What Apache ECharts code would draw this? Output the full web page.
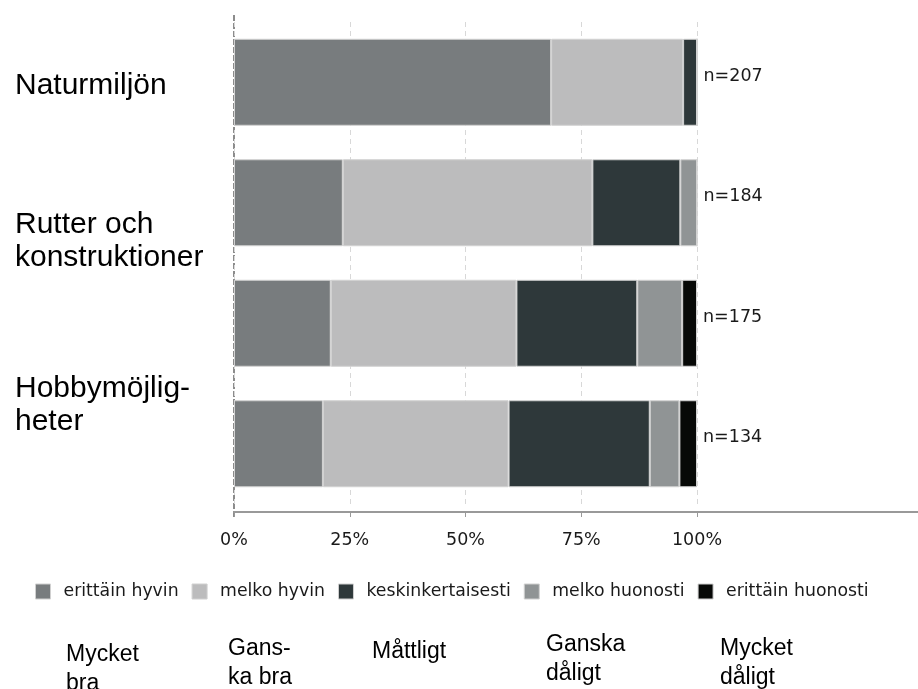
<!DOCTYPE html>
<html>
<head>
<meta charset="utf-8">
<script src="https://cdn.jsdelivr.net/npm/echarts@6/dist/echarts.min.js"></script>
<style>
html,body{margin:0;padding:0;background:#fff;}
#c{width:918px;height:689px;}
</style>
</head>
<body>
<div id="c"></div>
<script>
// ---- data ----
var categories = ['Naturmiljön', 'Rutter och konstruktioner', 'rad 3', 'Hobbymöjligheter'];
var seriesNames = ['erittäin hyvin', 'melko hyvin', 'keskinkertaisesti', 'melko huonosti', 'erittäin huonosti'];
var erittainHyvin   = [68.5, 23.5, 20.9, 19.2];
var melkoHyvin      = [28.5, 53.9, 40.1, 40.1];
var keskinkertaisesti = [3.0, 19.0, 26.1, 30.5];
var melkoHuonosti   = [0, 3.6, 9.7, 6.4];
var erittainHuonosti = [0, 0, 3.2, 3.8];
var nValues = [207, 184, 175, 134];
var xTicks = [0, 25, 50, 75, 100];
var leftLabels = ['Naturmiljön', 'Rutter och\nkonstruktioner', 'Hobbymöjlig-\nheter'];
var bottomLabels = ['Mycket\nbra', 'Gans-\nka bra', 'Måttligt', 'Ganska\ndåligt', 'Mycket\ndåligt'];

// ---- styles / layout ----
var colors = ['#787c7e', '#bcbcbd', '#2e383a', '#909495', '#070907'];
var valueSets = [erittainHyvin, melkoHyvin, keskinkertaisesti, melkoHuonosti, erittainHuonosti];
var tickFont = 'DejaVu Sans';

var chart = echarts.init(document.getElementById('c'));

var series = seriesNames.map(function (name, i) {
  var s = {
    name: name,
    type: 'bar',
    stack: 'total',
    barWidth: 87,
    data: valueSets[i],
    itemStyle: { color: colors[i], borderColor: '#d2d2d2', borderWidth: 1 },
    emphasis: { disabled: true },
    animation: false
  };
  if (i === seriesNames.length - 1) {
    s.label = {
      show: true,
      position: 'right',
      distance: 6,
      offset: [0, -6],
      fontFamily: tickFont,
      fontSize: 17.5,
      color: '#1a1a1a',
      formatter: function (p) { return 'n=' + nValues[p.dataIndex]; }
    };
  }
  return s;
});

var leftPos = [[15, 86], [15, 241], [15, 405]];
var bottomPos = [[66, 655], [228, 649], [372, 652], [546, 645], [720, 649]];

var graphics = [];
// y axis line
graphics.push({ type: 'line', shape: { x1: 234, y1: 15, x2: 234, y2: 517 },
  style: { stroke: '#8c8c8c', lineWidth: 2, lineDash: [6, 2] }, silent: true });
// x axis line extension
graphics.push({ type: 'line', shape: { x1: 697, y1: 512, x2: 918, y2: 512 },
  style: { stroke: '#999', lineWidth: 2 }, silent: true });

leftLabels.forEach(function (t, i) {
  graphics.push({
    type: 'text', x: leftPos[i][0], y: leftPos[i][1],
    style: { text: t, fontFamily: 'Liberation Sans, Arial', fontSize: 30, lineHeight: 33,
      fill: '#000', verticalAlign: 'middle', align: 'left' }, silent: true
  });
});
bottomLabels.forEach(function (t, i) {
  graphics.push({
    type: 'text', x: bottomPos[i][0], y: bottomPos[i][1] - 14.5,
    style: { text: t, fontFamily: 'Liberation Sans, Arial', fontSize: 23, lineHeight: 29,
      fill: '#000', verticalAlign: 'top', align: 'left' }, silent: true
  });
});

chart.setOption({
  animation: false,
  grid: { left: 234, right: 221, top: 22, bottom: 185, containLabel: false },
  legend: {
    data: seriesNames,
    left: 30,
    top: 578,
    itemWidth: 15,
    itemHeight: 15,
    itemGap: 13,
    icon: 'rect',
    selectedMode: false,
    itemStyle: { borderColor: '#d0d0d0', borderWidth: 1 },
    textStyle: { fontFamily: tickFont, fontSize: 17.3, color: '#1a1a1a', padding: [0, 0, 0, 8] }
  },
  xAxis: {
    type: 'value',
    min: 0,
    max: 100,
    interval: 25,
    offset: 8,
    axisLine: { show: true, lineStyle: { color: '#999', width: 2 } },
    axisTick: { show: true, length: 5, lineStyle: { color: '#999', width: 1 } },
    axisLabel: {
      margin: 19,
      fontFamily: tickFont,
      fontSize: 17.5,
      color: '#1a1a1a',
      formatter: function (v) { return xTicks.indexOf(v) >= 0 ? v + '%' : ''; }
    },
    splitLine: { show: true, lineStyle: { color: '#d8d8d8', type: [5, 4], width: 1 } }
  },
  yAxis: {
    type: 'category',
    inverse: true,
    data: categories,
    axisLine: { show: false },
    axisTick: { show: false },
    axisLabel: { show: false },
    splitLine: { show: false }
  },
  series: series,
  graphic: graphics
});
</script>
</body>
</html>
